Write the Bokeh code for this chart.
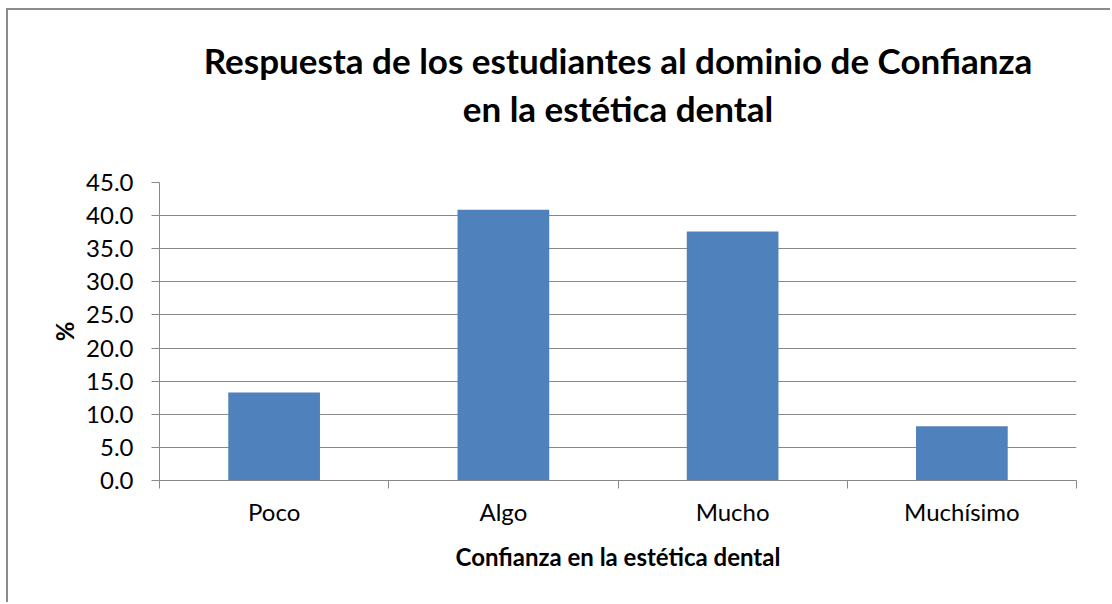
from bokeh.plotting import figure
from bokeh.models import (Range1d, FixedTicker, NumeralTickFormatter, Title,
                          ColumnDataSource)
from bokeh.embed import file_html
from bokeh.resources import INLINE

categories = ["Poco", "Algo", "Mucho", "Muchísimo"]
values = [13.3, 40.9, 37.6, 8.2]
y_ticks = [0, 5, 10, 15, 20, 25, 30, 35, 40, 45]
title_lines = ["Respuesta de los estudiantes al dominio de Confianza",
               "en la estética dental"]
x_title = "Confianza en la estética dental"
y_title = "%"

FONT = "Lato"
GRAY = "#888888"
BAR = "#4F81BD"

x_pos = [i + 0.5 for i in range(len(categories))]
src = ColumnDataSource(dict(x=x_pos, top=values, cat=categories))

p = figure(width=1104, height=594, output_backend="svg", toolbar_location=None,
           x_range=Range1d(0, len(categories)), y_range=Range1d(0, 45),
           min_border_left=151, min_border_right=36, min_border_top=172,
           min_border_bottom=124, title=None)
p.styles = {"border-left": "2px solid #8c8c8c", "border-top": "2px solid #8c8c8c",
            "margin-left": "6px", "margin-top": "8px"}
p.outline_line_color = None
p.background_fill_color = "white"
p.border_fill_color = "white"

p.vbar(x="x", top="top", width=0.4, source=src, fill_color=BAR, line_color=None)

# titles: spacer nearest the frame, then line 2, then line 1
spacer = Title(text=" ", text_font=FONT, text_font_size="10px", standoff=38)
t2 = Title(text=title_lines[1], align="center", text_font=FONT, text_font_size="35px",
           text_font_style="bold", text_color="black", standoff=4)
t1 = Title(text=title_lines[0], align="center", text_font=FONT, text_font_size="35px",
           text_font_style="bold", text_color="black", standoff=4)
p.add_layout(spacer, "above")
p.add_layout(t2, "above")
p.add_layout(t1, "above")

# x axis
xa = p.xaxis[0]
xa.ticker = FixedTicker(ticks=x_pos, minor_ticks=list(range(len(categories) + 1)))
xa.major_label_overrides = {x: c for x, c in zip(x_pos, categories)}
xa.major_tick_out = 0
xa.major_tick_in = 0
xa.minor_tick_out = 8
xa.minor_tick_in = 0
xa.minor_tick_line_color = GRAY
xa.axis_line_color = GRAY
xa.major_label_text_font = FONT
xa.major_label_text_font_size = "24px"
xa.major_label_text_color = "black"
xa.major_label_standoff = 8
xa.axis_label = x_title
xa.axis_label_text_font = FONT
xa.axis_label_text_font_size = "24px"
xa.axis_label_text_font_style = "bold"
xa.axis_label_text_color = "black"
xa.axis_label_standoff = 13

# y axis
ya = p.yaxis[0]
ya.ticker = FixedTicker(ticks=y_ticks)
ya.formatter = NumeralTickFormatter(format="0.0")
ya.major_tick_out = 8
ya.major_tick_in = 0
ya.minor_tick_out = 0
ya.minor_tick_in = 0
ya.major_tick_line_color = GRAY
ya.axis_line_color = GRAY
ya.major_label_text_font = FONT
ya.major_label_text_font_size = "24px"
ya.major_label_text_color = "black"
ya.major_label_standoff = 18
ya.axis_label = y_title
ya.axis_label_text_font = FONT
ya.axis_label_text_font_size = "24px"
ya.axis_label_text_font_style = "bold"
ya.axis_label_text_color = "black"
ya.axis_label_standoff = 4

p.xgrid.grid_line_color = None
p.ygrid.grid_line_color = GRAY
p.ygrid.grid_line_width = 1

open("out.html", "w").write(file_html(p, INLINE))
